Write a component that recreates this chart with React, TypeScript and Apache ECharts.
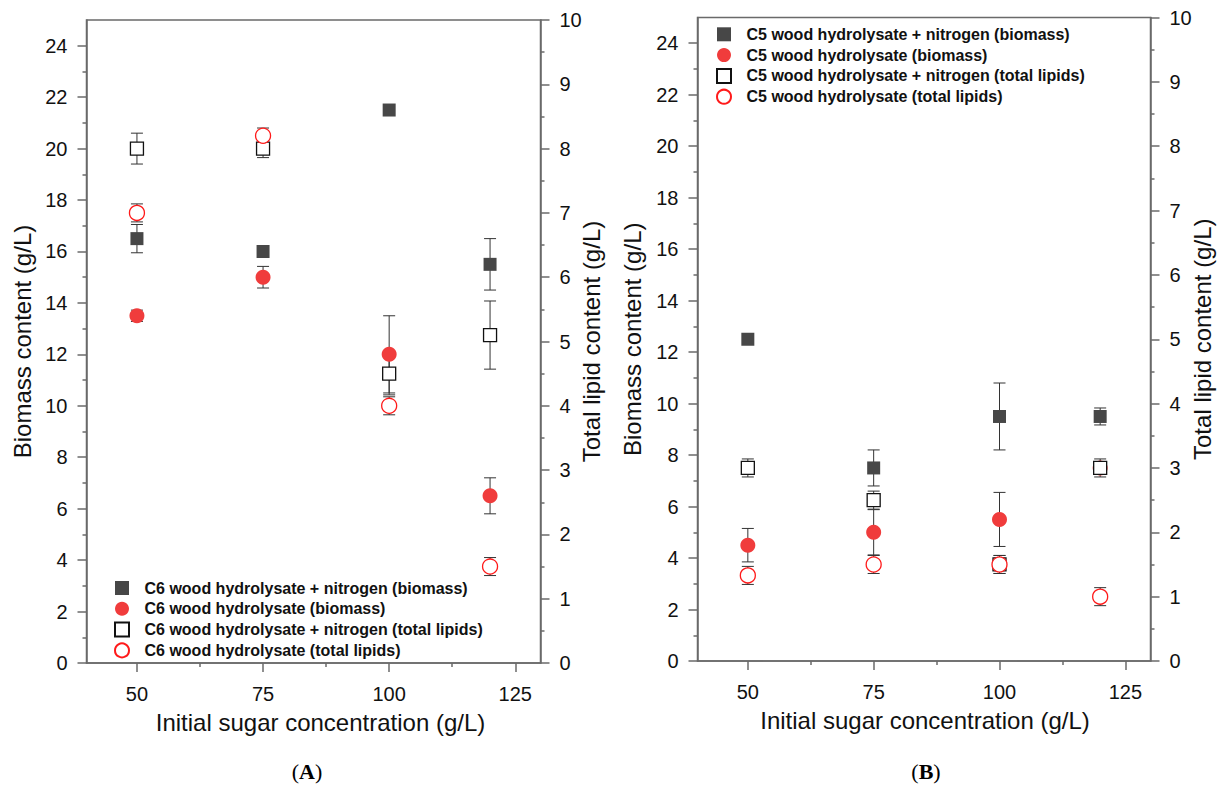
import React, { useEffect, useRef } from "react";
import * as echarts from "echarts";

// ---- data ----
const sugarConc = [50, 75, 100, 120];
const xMajorTicks = [50, 75, 100, 125];
const xMinorTicks = [62.5, 87.5, 112.5];
const biomassTicks = [0, 2, 4, 6, 8, 10, 12, 14, 16, 18, 20, 22, 24];
const biomassMinorTicks = [1, 3, 5, 7, 9, 11, 13, 15, 17, 19, 21, 23];

// Panel A (C6)
const c6NitrogenBiomass = [16.5, 16.0, 21.5, 15.5];
const c6NitrogenBiomassErr = [0.55, 0, 0, 1.0];
const c6Biomass = [13.5, 15.0, 12.0, 6.5];
const c6BiomassErr = [0.22, 0.42, 1.5, 0.7];
const c6NitrogenLipids = [8.0, 8.0, 4.5, 5.1];
const c6NitrogenLipidsErr = [0.24, 0.14, 0.33, 0.53];
const c6Lipids = [7.0, 8.2, 4.0, 1.5];
const c6LipidsErr = [0.14, 0.12, 0.14, 0.14];

// Panel B (C5)
const c5NitrogenBiomass = [12.5, 7.5, 9.5, 9.5];
const c5NitrogenBiomassErr = [0, 0.7, 1.3, 0.33];
const c5Biomass = [4.5, 5.0, 5.5, 7.5];
const c5BiomassErr = [0.65, 0.88, 1.05, 0];
const c5NitrogenLipids = [3.0, 2.5, 1.5, 3.0];
const c5NitrogenLipidsErr = [0.14, 0.14, 0.14, 0.14];
const c5Lipids = [1.33, 1.5, 1.5, 1.0];
const c5LipidsErr = [0.14, 0.14, 0.14, 0.14];

const namesA = [
  "C6 wood hydrolysate + nitrogen (biomass)",
  "C6 wood hydrolysate (biomass)",
  "C6 wood hydrolysate + nitrogen (total lipids)",
  "C6 wood hydrolysate (total lipids)",
];
const namesB = [
  "C5 wood hydrolysate + nitrogen (biomass)",
  "C5 wood hydrolysate (biomass)",
  "C5 wood hydrolysate + nitrogen (total lipids)",
  "C5 wood hydrolysate (total lipids)",
];

// ---- styles ----
const FONT = "'Liberation Sans', Arial, sans-serif";
const AXIS_COLOR = "#6a6a6a";
const TEXT_COLOR = "#111";
const DARK = "#474747";
const RED = "#f03c3c";
const SQUARE_ICON = "path://M0 0H10V10H0Z";

const styles = [
  { symbol: "rect", symbolSize: 13, itemStyle: { color: DARK, opacity: 1 } },
  { symbol: "circle", symbolSize: 15, itemStyle: { color: RED, opacity: 1 } },
  { symbol: "rect", symbolSize: 13, itemStyle: { color: "#fff", borderColor: "#111", borderWidth: 1.3, opacity: 1 } },
  { symbol: "circle", symbolSize: 15, itemStyle: { color: "#fff", borderColor: "#ff1a1a", borderWidth: 1.3, opacity: 1 } },
];
const legendIcons = [SQUARE_ICON, "circle", SQUARE_ICON, "circle"];

function errorSeries(name: string, xIdx: number, yIdx: number, vals: number[], errs: number[]) {
  return {
    type: "custom",
    name: name + " error",
    xAxisIndex: xIdx,
    yAxisIndex: yIdx,
    silent: true,
    data: sugarConc.map((x, i) => [x, vals[i], errs[i]]),
    renderItem: (params: any, api: any) => {
      const x = api.value(0);
      const y = api.value(1);
      const e = api.value(2);
      if (!e) return { type: "group", children: [] };
      const top = api.coord([x, y + e]);
      const bot = api.coord([x, y - e]);
      const hw = 6;
      const style = { stroke: "#333", lineWidth: 1 };
      return {
        type: "group",
        children: [
          { type: "line", shape: { x1: top[0], y1: top[1], x2: bot[0], y2: bot[1] }, style },
          { type: "line", shape: { x1: top[0] - hw, y1: top[1], x2: top[0] + hw, y2: top[1] }, style },
          { type: "line", shape: { x1: bot[0] - hw, y1: bot[1], x2: bot[0] + hw, y2: bot[1] }, style },
        ],
      };
    },
  };
}

function scatterSeries(name: string, k: number, xIdx: number, yIdx: number, vals: number[]) {
  return {
    type: "scatter",
    name,
    xAxisIndex: xIdx,
    yAxisIndex: yIdx,
    ...styles[k],
    data: sugarConc.map((x, i) => [x, vals[i]]),
  };
}

function panelSeries(names: string[], xIdx: number, yLeft: number, yRight: number, sets: [number[], number[]][]) {
  const out: any[] = [];
  sets.forEach(([vals, errs], k) => {
    const yIdx = k < 2 ? yLeft : yRight;
    out.push(errorSeries(names[k], xIdx, yIdx, vals, errs));
    out.push(scatterSeries(names[k], k, xIdx, yIdx, vals));
  });
  return out;
}

const labelStyle = { fontSize: 20, color: TEXT_COLOR, fontFamily: FONT };
const nameStyle = { fontSize: 24, color: TEXT_COLOR, fontFamily: FONT };
const lineStyle = { color: AXIS_COLOR, width: 1.5 };

function xAxes(grid: number, namePadLeft: number) {
  return [
    {
      gridIndex: grid,
      type: "value",
      min: 40,
      max: 130,
      position: "bottom",
      axisLine: { show: true, lineStyle },
      axisTick: { show: true, customValues: xMajorTicks, length: 9, lineStyle },
      axisLabel: { customValues: xMajorTicks, margin: 21, ...labelStyle },
      splitLine: { show: false },
      name: "Initial sugar concentration (g/L)",
      nameLocation: "middle",
      nameGap: 47,
      nameMoveOverlap: false,
      nameTextStyle: { ...nameStyle, padding: [0, 0, 0, namePadLeft] },
    },
    {
      gridIndex: grid,
      type: "value",
      min: 40,
      max: 130,
      position: "bottom",
      axisLine: { show: false },
      axisTick: { show: true, customValues: xMinorTicks, length: 4, lineStyle },
      axisLabel: { show: false },
      splitLine: { show: false },
    },
  ];
}

function yAxes(grid: number, nameGapLeft: number, nameGapRight: number) {
  return [
    {
      gridIndex: grid,
      type: "value",
      min: 0,
      max: 25,
      position: "left",
      axisLine: { show: true, lineStyle },
      axisTick: { show: true, customValues: biomassTicks, length: 9, lineStyle },
      axisLabel: { customValues: biomassTicks, margin: 19, ...labelStyle },
      splitLine: { show: false },
      name: "Biomass content (g/L)",
      nameLocation: "middle",
      nameRotate: 90,
      nameGap: nameGapLeft,
      nameMoveOverlap: false,
      nameTextStyle: nameStyle,
    },
    {
      gridIndex: grid,
      type: "value",
      min: 0,
      max: 10,
      interval: 1,
      position: "right",
      axisLine: { show: true, lineStyle },
      axisTick: { show: true, length: 9, lineStyle },
      minorTick: { show: true, splitNumber: 2, length: 4, lineStyle },
      axisLabel: { margin: 19, ...labelStyle },
      splitLine: { show: false },
      minorSplitLine: { show: false },
      name: "Total lipid content (g/L)",
      nameLocation: "middle",
      nameRotate: 90,
      nameGap: nameGapRight,
      nameMoveOverlap: false,
      nameTextStyle: nameStyle,
    },
    {
      gridIndex: grid,
      type: "value",
      min: 0,
      max: 25,
      position: "left",
      axisLine: { show: false },
      axisTick: { show: true, customValues: biomassMinorTicks, length: 4, lineStyle },
      axisLabel: { show: false },
      splitLine: { show: false },
    },
  ];
}

function legend(names: string[], left: number, top: number) {
  return {
    data: names.map((n, k) => ({ name: n, icon: legendIcons[k] })),
    orient: "vertical",
    left,
    top,
    padding: 0,
    itemWidth: 35,
    itemHeight: 14,
    itemGap: 4.8,
    selectedMode: false,
    textStyle: { fontSize: 16, fontWeight: "bold", color: "#111", fontFamily: FONT, lineHeight: 14 },
  };
}

export default function App() {
  const ref = useRef<HTMLDivElement>(null);
  useEffect(() => {
    if (!ref.current) return;
    const chart = echarts.init(ref.current, undefined, { renderer: "svg" });
    const option: any = {
      animation: false,
      backgroundColor: "#fff",
      grid: [
        { left: 86.5, top: 20, width: 454, height: 643, show: true, borderColor: AXIS_COLOR, borderWidth: 1.5, backgroundColor: "transparent" },
        { left: 697.5, top: 17.5, width: 453, height: 643.5, show: true, borderColor: AXIS_COLOR, borderWidth: 1.5, backgroundColor: "transparent" },
      ],
      xAxis: [...xAxes(0, 14), ...xAxes(1, 2)],
      yAxis: [...yAxes(0, 52, 38.5), ...yAxes(1, 53, 39.5)],
      legend: [legend(namesA, 114, 580), legend(namesB, 716, 26.3)],
      series: [
        ...panelSeries(namesA, 0, 0, 1, [
          [c6NitrogenBiomass, c6NitrogenBiomassErr],
          [c6Biomass, c6BiomassErr],
          [c6NitrogenLipids, c6NitrogenLipidsErr],
          [c6Lipids, c6LipidsErr],
        ]),
        ...panelSeries(namesB, 2, 3, 4, [
          [c5NitrogenBiomass, c5NitrogenBiomassErr],
          [c5Biomass, c5BiomassErr],
          [c5NitrogenLipids, c5NitrogenLipidsErr],
          [c5Lipids, c5LipidsErr],
        ]),
      ],
      graphic: [
        {
          type: "text",
          x: 307,
          y: 771,
          style: {
            text: "{p|(}{b|A}{p|)}",
            align: "center",
            verticalAlign: "middle",
            rich: {
              p: { fontFamily: "'Liberation Serif', serif", fontSize: 22, fill: "#000" },
              b: { fontFamily: "'Liberation Serif', serif", fontSize: 22, fontWeight: "bold", fill: "#000" },
            },
          },
        },
        {
          type: "text",
          x: 926,
          y: 771,
          style: {
            text: "{p|(}{b|B}{p|)}",
            align: "center",
            verticalAlign: "middle",
            rich: {
              p: { fontFamily: "'Liberation Serif', serif", fontSize: 22, fill: "#000" },
              b: { fontFamily: "'Liberation Serif', serif", fontSize: 22, fontWeight: "bold", fill: "#000" },
            },
          },
        },
      ],
    };
    chart.setOption(option);
    return () => chart.dispose();
  }, []);
  return (
    <div
      ref={ref}
      style={{ position: "fixed", left: 0, top: 0, width: 1218, height: 787, background: "#fff" }}
    />
  );
}
